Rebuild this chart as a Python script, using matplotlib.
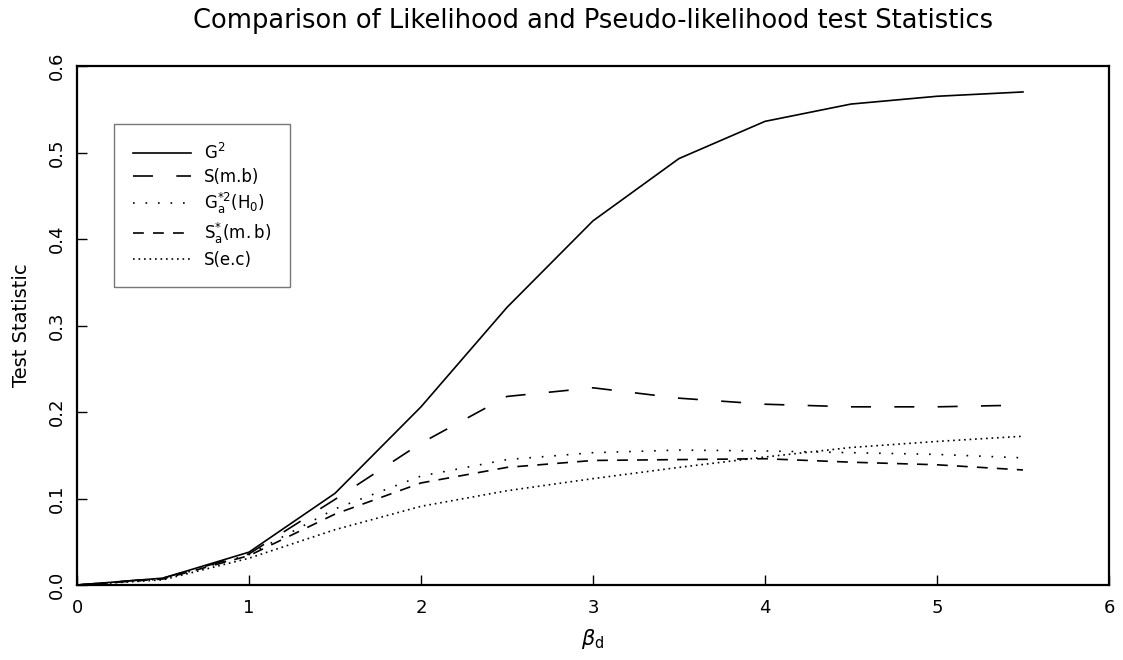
import matplotlib
matplotlib.use("Agg")
import matplotlib.pyplot as plt

# ---- data ----
beta_d = [0, 0.5, 1, 1.5, 2, 2.5, 3, 3.5, 4, 4.5, 5, 5.5]
G2 = [0, 0.008, 0.038, 0.106, 0.206, 0.321, 0.421, 0.493, 0.536, 0.556, 0.565, 0.570]
S_mb = [0, 0.008, 0.036, 0.099, 0.164, 0.218, 0.228, 0.216, 0.209, 0.206, 0.206, 0.208]
Ga2_H0 = [0, 0.007, 0.035, 0.088, 0.126, 0.145, 0.153, 0.156, 0.155, 0.153, 0.151, 0.147]
Sa_mb = [0, 0.007, 0.034, 0.082, 0.118, 0.136, 0.144, 0.145, 0.146, 0.142, 0.139, 0.133]
S_ec = [0, 0.006, 0.031, 0.064, 0.091, 0.109, 0.123, 0.136, 0.148, 0.159, 0.166, 0.172]

labels = [r"G$^2$", "S(m.b)", r"$\mathrm{G}_{\mathrm{a}}^{*2}(\mathrm{H}_0)$",
          r"$\mathrm{S}_{\mathrm{a}}^{*}(\mathrm{m.b})$", "S(e.c)"]
x_ticks = [0, 1, 2, 3, 4, 5, 6]
y_ticks = [0.0, 0.1, 0.2, 0.3, 0.4, 0.5, 0.6]

plt.rcParams['font.family'] = ['DejaVu Sans']
plt.rcParams['mathtext.fontset'] = 'dejavusans'

fig = plt.figure(figsize=(11.23, 6.6), dpi=100)
ax = fig.add_axes([0.0686, 0.1136, 0.9189, 0.7864])

lw = 1.2
ax.plot(beta_d, G2, color='black', lw=lw, linestyle='-', label=labels[0])
ax.plot(beta_d, S_mb, color='black', lw=lw, linestyle=(0, (12, 14)), label=labels[1])
ax.plot(beta_d, Ga2_H0, color='black', lw=lw, linestyle=(0, (1, 6.5)), label=labels[2])
ax.plot(beta_d, Sa_mb, color='black', lw=lw, linestyle=(0, (6.5, 5.5)), label=labels[3])
ax.plot(beta_d, S_ec, color='black', lw=lw, linestyle=(0, (1, 2.3)), label=labels[4])

ax.set_xlim(0, 6)
ax.set_ylim(0, 0.6)
ax.set_xticks(x_ticks)
ax.set_xticklabels([str(t) for t in x_ticks])
ax.set_yticks(y_ticks)
ax.set_yticklabels([f"{t:.1f}" for t in y_ticks], rotation=90, va='center')
ax.tick_params(direction='in', length=7, width=1, labelsize=13, pad=8)
ax.tick_params(axis='x', pad=10)
for s in ax.spines.values():
    s.set_linewidth(1.6)

ax.set_title("Comparison of Likelihood and Pseudo-likelihood test Statistics",
             fontsize=18.5, pad=27)
ax.set_xlabel(r"$\beta_\mathrm{d}$", fontsize=15, labelpad=7)
ax.set_ylabel("Test Statistic", fontsize=14, labelpad=12)

leg = ax.legend(loc='upper left', bbox_to_anchor=(0.036, 0.888), borderaxespad=0,
                fontsize=12, handlelength=3.5, handletextpad=0.8,
                labelspacing=0.3, borderpad=1.1, fancybox=False, frameon=True)
leg.get_frame().set_edgecolor('#555555')
leg.get_frame().set_linewidth(1.0)

fig.savefig("out.png", dpi=100)
